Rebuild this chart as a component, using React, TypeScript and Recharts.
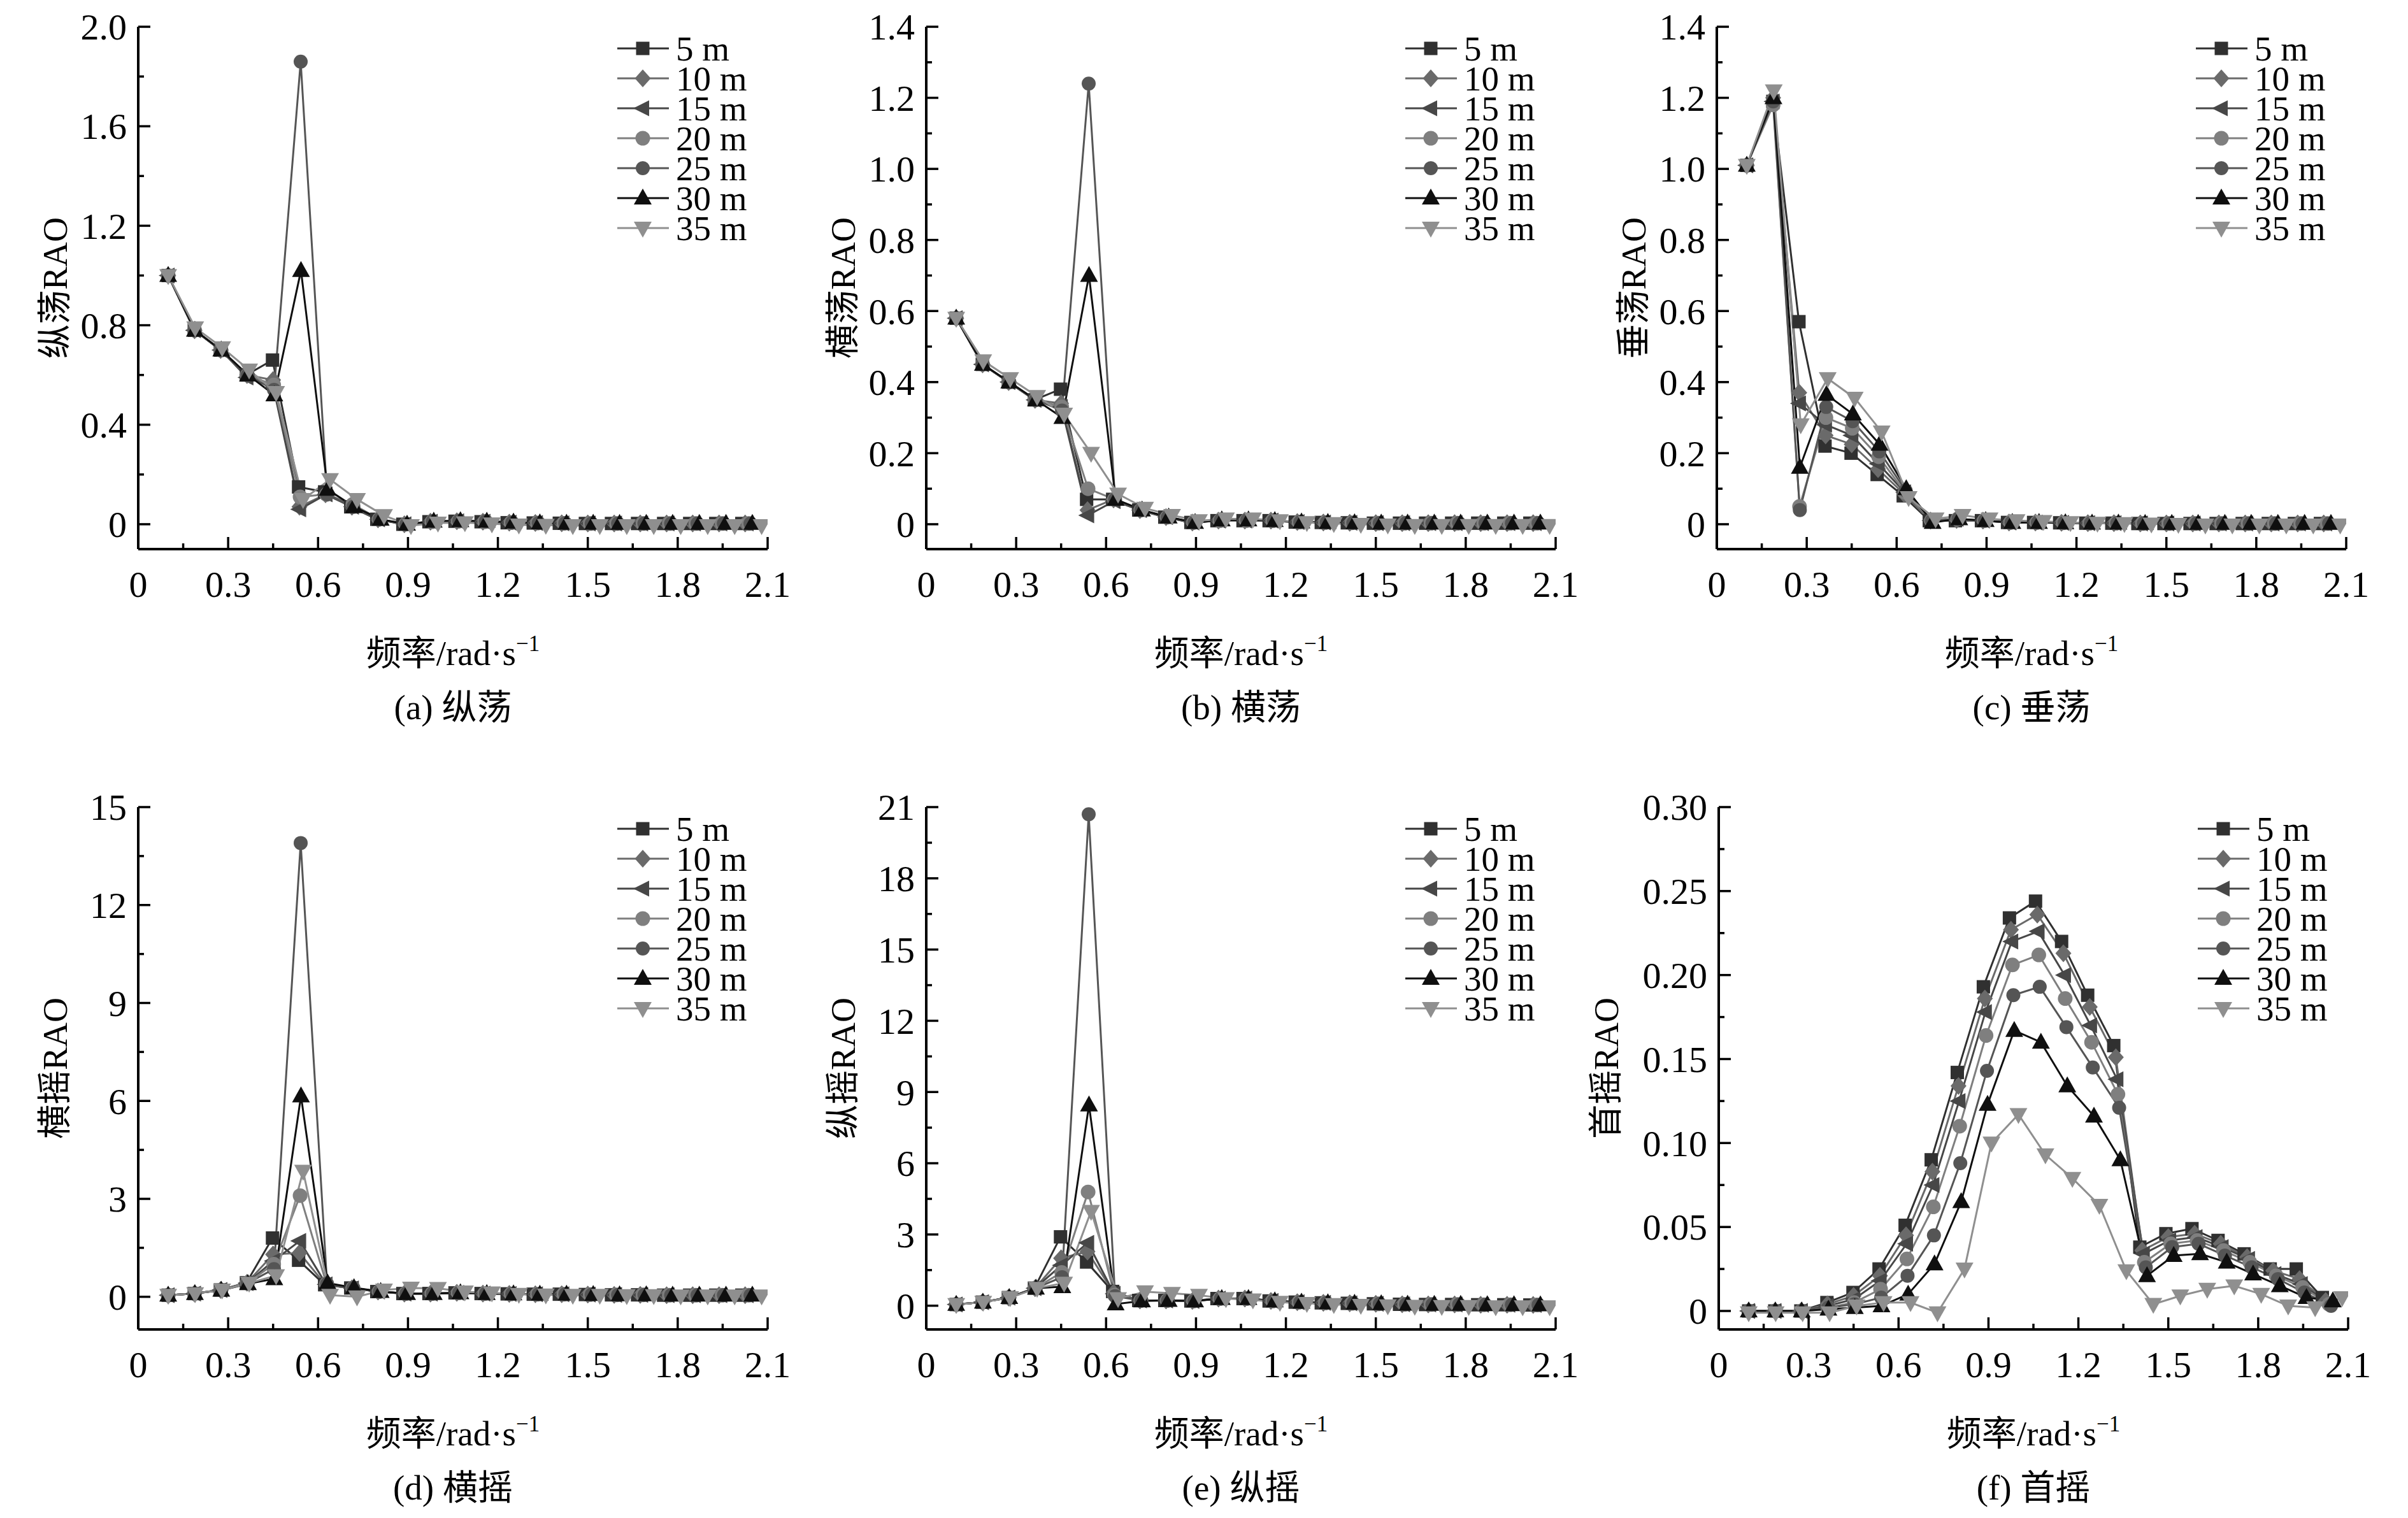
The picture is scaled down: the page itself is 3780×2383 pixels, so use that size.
import React from "react";
import { LineChart, Line, XAxis, YAxis } from "recharts";

// ---- data ----
const DEPTHS = ["5 m", "10 m", "15 m", "20 m", "25 m", "30 m", "35 m"];

// frequency points (rad/s) of each depth series
const FREQ_5M = [0.100, 0.187, 0.274, 0.361, 0.448, 0.535, 0.622, 0.709, 0.796, 0.883, 0.970, 1.057, 1.144, 1.231, 1.318, 1.405, 1.492, 1.579, 1.666, 1.753, 1.840, 1.927, 2.014];
const FREQ_10M = [0.100, 0.188, 0.275, 0.363, 0.450, 0.538, 0.625, 0.713, 0.800, 0.888, 0.975, 1.063, 1.150, 1.238, 1.325, 1.413, 1.500, 1.588, 1.675, 1.763, 1.850, 1.938, 2.025];
const FREQ_15M = [0.100, 0.188, 0.276, 0.363, 0.451, 0.539, 0.627, 0.715, 0.802, 0.890, 0.978, 1.066, 1.154, 1.241, 1.329, 1.417, 1.505, 1.593, 1.680, 1.768, 1.856, 1.944, 2.032];
const FREQ_20M = [0.100, 0.188, 0.276, 0.364, 0.452, 0.540, 0.628, 0.716, 0.804, 0.892, 0.980, 1.068, 1.156, 1.244, 1.332, 1.420, 1.508, 1.596, 1.684, 1.772, 1.860, 1.948, 2.036];
const FREQ_25M = [0.100, 0.188, 0.277, 0.365, 0.453, 0.542, 0.630, 0.718, 0.806, 0.895, 0.983, 1.071, 1.160, 1.248, 1.336, 1.425, 1.513, 1.601, 1.689, 1.778, 1.866, 1.954, 2.043];
const FREQ_30M = [0.100, 0.189, 0.277, 0.366, 0.454, 0.543, 0.632, 0.720, 0.809, 0.897, 0.986, 1.075, 1.163, 1.252, 1.340, 1.429, 1.518, 1.606, 1.695, 1.783, 1.872, 1.961, 2.049];
const FREQ_35M = [0.10, 0.19, 0.28, 0.37, 0.46, 0.55, 0.64, 0.73, 0.82, 0.91, 1.00, 1.09, 1.18, 1.27, 1.36, 1.45, 1.54, 1.63, 1.72, 1.81, 1.90, 1.99, 2.08];
const FREQS = [FREQ_5M, FREQ_10M, FREQ_15M, FREQ_20M, FREQ_25M, FREQ_30M, FREQ_35M];

// each panel: one row per depth, 5 m .. 35 m
const SURGE = [
  [1.00, 0.78, 0.70, 0.60, 0.66, 0.15, 0.13, 0.07, 0.02, 0.00, 0.010, 0.012, 0.010, 0.006, 0.005, 0.004, 0.003, 0.003, 0.003, 0.003, 0.003, 0.003, 0.003],
  [1.00, 0.78, 0.70, 0.60, 0.58, 0.07, 0.12, 0.07, 0.02, 0.00, 0.010, 0.012, 0.010, 0.006, 0.005, 0.004, 0.003, 0.003, 0.003, 0.003, 0.003, 0.003, 0.003],
  [1.00, 0.78, 0.70, 0.59, 0.55, 0.06, 0.12, 0.07, 0.02, 0.00, 0.010, 0.012, 0.010, 0.006, 0.005, 0.004, 0.003, 0.003, 0.003, 0.003, 0.003, 0.003, 0.003],
  [1.00, 0.78, 0.70, 0.60, 0.56, 0.11, 0.12, 0.08, 0.02, 0.00, 0.010, 0.012, 0.010, 0.006, 0.005, 0.004, 0.003, 0.003, 0.003, 0.003, 0.003, 0.003, 0.003],
  [1.00, 0.78, 0.70, 0.60, 0.54, 1.86, 0.12, 0.07, 0.02, 0.00, 0.012, 0.014, 0.012, 0.007, 0.005, 0.004, 0.003, 0.003, 0.003, 0.003, 0.003, 0.003, 0.003],
  [1.00, 0.78, 0.70, 0.60, 0.52, 1.02, 0.14, 0.07, 0.02, 0.00, 0.012, 0.014, 0.012, 0.008, 0.005, 0.004, 0.004, 0.003, 0.003, 0.003, 0.003, 0.003, 0.003],
  [1.00, 0.79, 0.71, 0.62, 0.53, 0.10, 0.18, 0.10, 0.035, -0.005, 0.005, 0.006, 0.002, -0.003, -0.004, -0.005, -0.005, -0.005, -0.005, -0.005, -0.005, -0.005, -0.005],
];

const SWAY = [
  [0.58, 0.45, 0.40, 0.35, 0.38, 0.07, 0.07, 0.04, 0.02, 0.005, 0.010, 0.010, 0.010, 0.006, 0.005, 0.004, 0.003, 0.003, 0.003, 0.003, 0.003, 0.003, 0.003],
  [0.58, 0.45, 0.40, 0.35, 0.34, 0.04, 0.07, 0.04, 0.02, 0.005, 0.010, 0.010, 0.010, 0.006, 0.005, 0.004, 0.003, 0.003, 0.003, 0.003, 0.003, 0.003, 0.003],
  [0.58, 0.45, 0.40, 0.35, 0.33, 0.025, 0.065, 0.04, 0.02, 0.005, 0.010, 0.010, 0.010, 0.006, 0.005, 0.004, 0.003, 0.003, 0.003, 0.003, 0.003, 0.003, 0.003],
  [0.58, 0.45, 0.40, 0.35, 0.33, 0.10, 0.07, 0.04, 0.02, 0.005, 0.010, 0.010, 0.010, 0.006, 0.005, 0.004, 0.003, 0.003, 0.003, 0.003, 0.003, 0.003, 0.003],
  [0.58, 0.45, 0.40, 0.35, 0.32, 1.24, 0.07, 0.04, 0.02, 0.005, 0.012, 0.012, 0.010, 0.006, 0.005, 0.004, 0.003, 0.003, 0.003, 0.003, 0.003, 0.003, 0.003],
  [0.58, 0.45, 0.40, 0.35, 0.30, 0.70, 0.07, 0.04, 0.02, 0.005, 0.012, 0.012, 0.010, 0.006, 0.005, 0.004, 0.003, 0.003, 0.003, 0.003, 0.003, 0.003, 0.003],
  [0.58, 0.46, 0.41, 0.36, 0.31, 0.20, 0.085, 0.045, 0.025, 0.010, 0.015, 0.015, 0.010, 0.005, 0.002, 0.000, -0.002, -0.003, -0.003, -0.003, -0.003, -0.003, -0.003],
];

const HEAVE = [
  [1.01, 1.19, 0.57, 0.22, 0.20, 0.14, 0.08, 0.010, 0.010, 0.010, 0.005, 0.005, 0.004, 0.003, 0.003, 0.002, 0.002, 0.002, 0.002, 0.002, 0.002, 0.002, 0.002],
  [1.01, 1.20, 0.37, 0.25, 0.225, 0.155, 0.085, 0.010, 0.012, 0.010, 0.005, 0.005, 0.004, 0.003, 0.003, 0.002, 0.002, 0.002, 0.002, 0.002, 0.002, 0.002, 0.002],
  [1.01, 1.19, 0.34, 0.28, 0.25, 0.17, 0.09, 0.010, 0.015, 0.010, 0.005, 0.005, 0.004, 0.003, 0.003, 0.002, 0.002, 0.002, 0.002, 0.002, 0.002, 0.002, 0.002],
  [1.01, 1.18, 0.05, 0.30, 0.27, 0.19, 0.09, 0.010, 0.015, 0.010, 0.005, 0.005, 0.004, 0.003, 0.003, 0.002, 0.002, 0.002, 0.002, 0.002, 0.002, 0.002, 0.002],
  [1.01, 1.19, 0.04, 0.33, 0.29, 0.205, 0.095, 0.010, 0.015, 0.010, 0.005, 0.005, 0.004, 0.003, 0.003, 0.002, 0.002, 0.002, 0.002, 0.002, 0.002, 0.002, 0.002],
  [1.01, 1.20, 0.16, 0.365, 0.31, 0.225, 0.10, 0.005, 0.015, 0.010, 0.005, 0.005, 0.004, 0.003, 0.003, 0.002, 0.002, 0.002, 0.002, 0.002, 0.002, 0.002, 0.002],
  [1.01, 1.22, 0.28, 0.41, 0.355, 0.26, 0.075, 0.015, 0.025, 0.015, 0.010, 0.008, 0.005, 0.003, 0.002, 0.001, 0.000, -0.002, -0.002, -0.002, -0.002, -0.002, -0.002],
];

const ROLL = [
  [0.05, 0.10, 0.21, 0.43, 1.80, 1.12, 0.37, 0.27, 0.16, 0.10, 0.10, 0.12, 0.10, 0.09, 0.08, 0.08, 0.07, 0.06, 0.06, 0.05, 0.05, 0.05, 0.05],
  [0.05, 0.10, 0.21, 0.43, 1.30, 1.34, 0.37, 0.26, 0.16, 0.10, 0.10, 0.12, 0.10, 0.09, 0.08, 0.08, 0.07, 0.06, 0.06, 0.05, 0.05, 0.05, 0.05],
  [0.05, 0.10, 0.21, 0.42, 1.10, 1.71, 0.38, 0.26, 0.16, 0.10, 0.10, 0.12, 0.10, 0.09, 0.08, 0.08, 0.07, 0.06, 0.06, 0.05, 0.05, 0.05, 0.05],
  [0.05, 0.10, 0.21, 0.42, 1.00, 3.10, 0.40, 0.27, 0.16, 0.10, 0.10, 0.12, 0.10, 0.09, 0.08, 0.08, 0.07, 0.06, 0.06, 0.05, 0.05, 0.05, 0.05],
  [0.05, 0.10, 0.21, 0.42, 0.85, 13.9, 0.40, 0.27, 0.16, 0.10, 0.10, 0.12, 0.10, 0.09, 0.08, 0.08, 0.07, 0.06, 0.06, 0.05, 0.05, 0.05, 0.05],
  [0.05, 0.10, 0.20, 0.40, 0.55, 6.15, 0.42, 0.28, 0.16, 0.10, 0.10, 0.12, 0.10, 0.09, 0.08, 0.08, 0.07, 0.06, 0.06, 0.05, 0.05, 0.05, 0.05],
  [0.05, 0.10, 0.21, 0.42, 0.65, 3.85, 0.05, 0.00, 0.21, 0.27, 0.26, 0.15, 0.12, 0.08, 0.06, 0.05, 0.05, 0.04, 0.04, 0.03, 0.03, 0.03, 0.03],
];

const PITCH = [
  [0.05, 0.15, 0.34, 0.74, 2.90, 1.84, 0.60, 0.22, 0.22, 0.20, 0.30, 0.30, 0.20, 0.15, 0.12, 0.10, 0.08, 0.06, 0.05, 0.05, 0.04, 0.04, 0.03],
  [0.05, 0.15, 0.34, 0.74, 2.00, 2.28, 0.55, 0.22, 0.22, 0.20, 0.30, 0.30, 0.20, 0.15, 0.12, 0.10, 0.08, 0.06, 0.05, 0.05, 0.04, 0.04, 0.03],
  [0.05, 0.15, 0.34, 0.74, 1.70, 2.65, 0.50, 0.22, 0.22, 0.20, 0.30, 0.30, 0.20, 0.15, 0.12, 0.10, 0.08, 0.06, 0.05, 0.05, 0.04, 0.04, 0.03],
  [0.05, 0.15, 0.34, 0.74, 1.40, 4.79, 0.45, 0.22, 0.22, 0.20, 0.30, 0.30, 0.20, 0.15, 0.12, 0.10, 0.08, 0.06, 0.05, 0.05, 0.04, 0.04, 0.03],
  [0.05, 0.15, 0.34, 0.74, 1.20, 20.7, 0.40, 0.22, 0.22, 0.20, 0.30, 0.30, 0.20, 0.15, 0.12, 0.10, 0.08, 0.06, 0.05, 0.05, 0.04, 0.04, 0.03],
  [0.05, 0.15, 0.34, 0.74, 0.80, 8.45, 0.07, 0.20, 0.22, 0.20, 0.30, 0.30, 0.20, 0.15, 0.12, 0.10, 0.08, 0.06, 0.05, 0.05, 0.04, 0.04, 0.03],
  [0.05, 0.15, 0.34, 0.74, 0.95, 3.98, 0.30, 0.59, 0.52, 0.44, 0.30, 0.25, 0.15, 0.10, 0.05, 0.02, 0.00, -0.02, -0.03, -0.03, -0.04, -0.04, -0.04],
];

const YAW = [
  [0, 0, 0, 0.005, 0.011, 0.025, 0.051, 0.090, 0.142, 0.193, 0.234, 0.244, 0.220, 0.188, 0.158, 0.038, 0.046, 0.049, 0.042, 0.034, 0.025, 0.025, 0.008],
  [0, 0, 0, 0.004, 0.009, 0.021, 0.045, 0.083, 0.134, 0.186, 0.227, 0.236, 0.213, 0.181, 0.151, 0.036, 0.044, 0.046, 0.040, 0.032, 0.024, 0.019, 0.006],
  [0, 0, 0, 0.003, 0.007, 0.018, 0.040, 0.075, 0.125, 0.178, 0.220, 0.226, 0.200, 0.170, 0.138, 0.034, 0.042, 0.044, 0.038, 0.031, 0.022, 0.016, 0.005],
  [0, 0, 0, 0.002, 0.005, 0.013, 0.031, 0.062, 0.110, 0.164, 0.206, 0.212, 0.186, 0.160, 0.129, 0.029, 0.040, 0.042, 0.036, 0.029, 0.021, 0.014, 0.004],
  [0, 0, 0, 0.002, 0.004, 0.008, 0.021, 0.045, 0.088, 0.143, 0.188, 0.193, 0.169, 0.145, 0.121, 0.026, 0.038, 0.040, 0.033, 0.026, 0.019, 0.011, 0.003],
  [0, 0, 0, 0.001, 0.002, 0.003, 0.010, 0.028, 0.065, 0.123, 0.167, 0.160, 0.134, 0.116, 0.090, 0.021, 0.033, 0.034, 0.029, 0.022, 0.015, 0.008, 0.006],
  [-0.001, -0.001, -0.001, -0.001, 0.003, 0.005, 0.005, -0.001, 0.025, 0.100, 0.117, 0.093, 0.079, 0.063, 0.024, 0.004, 0.009, 0.013, 0.015, 0.010, 0.003, 0.002, 0.008],
];

// ---- ticks ----
const X_MAJOR = [0, 0.3, 0.6, 0.9, 1.2, 1.5, 1.8, 2.1];
const X_MINOR = [0.15, 0.45, 0.75, 1.05, 1.35, 1.65, 1.95];
const Y_MAJOR_SURGE = [0, 0.4, 0.8, 1.2, 1.6, 2.0];
const Y_MINOR_SURGE = [0.2, 0.6, 1.0, 1.4, 1.8];
const Y_MAJOR_SWAY = [0, 0.2, 0.4, 0.6, 0.8, 1.0, 1.2, 1.4];
const Y_MINOR_SWAY = [0.1, 0.3, 0.5, 0.7, 0.9, 1.1, 1.3];
const Y_MAJOR_ROLL = [0, 3, 6, 9, 12, 15];
const Y_MINOR_ROLL = [1.5, 4.5, 7.5, 10.5, 13.5];
const Y_MAJOR_PITCH = [0, 3, 6, 9, 12, 15, 18, 21];
const Y_MINOR_PITCH = [1.5, 4.5, 7.5, 10.5, 13.5, 16.5, 19.5];
const Y_MAJOR_YAW = [0, 0.05, 0.1, 0.15, 0.2, 0.25, 0.3];
const Y_MINOR_YAW = [0.025, 0.075, 0.125, 0.175, 0.225, 0.275];

// ---- styling ----
const FONT = "'Liberation Serif', 'Times New Roman', 'Noto Sans CJK SC', serif";
const COLORS = ["#303030", "#6a6a6a", "#474747", "#7f7f7f", "#555555", "#0f0f0f", "#8f8f8f"];
const SHAPES = ["square", "diamond", "left", "circle", "hex", "up", "down"];
const CHART_W = 1260;
const PLOT_L = 217;
const PLOT_R = 55;
const PLOT_T = 42;
const PLOT_B = 862; // plot bottom, measured from panel top
const Y_AXIS_W = 60;
const X_AXIS_H = 60;
const TICK_FONT = 58;

const fmt = (d: number) => (v: number) => (v === 0 ? "0" : v.toFixed(d));

const PANELS = [
  { key: "a", left: 0, top: 0, h: 1190, rows: SURGE, yMajor: Y_MAJOR_SURGE, yMinor: Y_MINOR_SURGE, domain: [-0.1, 2.0], f: fmt(1), titleX: 112, title: "纵荡RAO", cap: "(a) 纵荡" },
  { key: "b", left: 1237, top: 0, h: 1190, rows: SWAY, yMajor: Y_MAJOR_SWAY, yMinor: Y_MINOR_SWAY, domain: [-0.07, 1.4], f: fmt(1), titleX: 112, title: "横荡RAO", cap: "(b) 横荡" },
  { key: "c", left: 2478, top: 0, h: 1190, rows: HEAVE, yMajor: Y_MAJOR_SWAY, yMinor: Y_MINOR_SWAY, domain: [-0.07, 1.4], f: fmt(1), titleX: 112, title: "垂荡RAO", cap: "(c) 垂荡" },
  { key: "d", left: 0, top: 1225, h: 1158, rows: ROLL, yMajor: Y_MAJOR_ROLL, yMinor: Y_MINOR_ROLL, domain: [-1, 15], f: fmt(0), titleX: 112, title: "横摇RAO", cap: "(d) 横摇" },
  { key: "e", left: 1237, top: 1225, h: 1158, rows: PITCH, yMajor: Y_MAJOR_PITCH, yMinor: Y_MINOR_PITCH, domain: [-1, 21], f: fmt(0), titleX: 112, title: "纵摇RAO", cap: "(e) 纵摇" },
  { key: "f", left: 2481, top: 1225, h: 1158, rows: YAW, yMajor: Y_MAJOR_YAW, yMinor: Y_MINOR_YAW, domain: [-0.011, 0.3], f: fmt(2), titleX: 158, title: "首摇RAO", cap: "(f) 首摇" },
];

const near = (list: number[], v: number) => list.some((m) => Math.abs(m - v) < 1e-9);

function Marker({ shape, cx, cy, color }: { shape: string; cx: number; cy: number; color: string }) {
  switch (shape) {
    case "square":
      return <rect x={cx - 10.5} y={cy - 10.5} width={21} height={21} fill={color} />;
    case "diamond":
      return <polygon points={`${cx},${cy - 14} ${cx + 12.5},${cy} ${cx},${cy + 14} ${cx - 12.5},${cy}`} fill={color} />;
    case "left":
      return <polygon points={`${cx - 15},${cy} ${cx + 10},${cy - 12.5} ${cx + 10},${cy + 12.5}`} fill={color} />;
    case "circle":
      return <circle cx={cx} cy={cy} r={11.5} fill={color} />;
    case "hex":
      return <circle cx={cx} cy={cy} r={11} fill={color} />;
    case "up":
      return <polygon points={`${cx},${cy - 15} ${cx + 14},${cy + 10} ${cx - 14},${cy + 10}`} fill={color} />;
    default:
      return <polygon points={`${cx},${cy + 15} ${cx + 14},${cy - 10} ${cx - 14},${cy - 10}`} fill={color} />;
  }
}

// tick props x/y sit on the axis line because tickSize and tickMargin are 0
const XTick = (props: any) => {
  const { x, y, payload } = props;
  const major = near(X_MAJOR, payload.value);
  return (
    <g>
      <line x1={x} y1={y} x2={x} y2={y - (major ? 19 : 9)} stroke="#000" strokeWidth={3.5} />
      {major && (
        <text x={x} y={y + 75} textAnchor="middle" fontSize={TICK_FONT} fontFamily={FONT} fill="#000">
          {fmt(1)(payload.value)}
        </text>
      )}
    </g>
  );
};

const makeYTick = (majors: number[], f: (v: number) => string) => (props: any) => {
  const { x, y, payload } = props;
  const major = near(majors, payload.value);
  return (
    <g>
      <line x1={x} y1={y} x2={x + (major ? 19 : 9)} y2={y} stroke="#000" strokeWidth={3.5} />
      {major && (
        <text x={x - 18} y={y} dy="0.35em" textAnchor="end" fontSize={TICK_FONT} fontFamily={FONT} fill="#000">
          {f(payload.value)}
        </text>
      )}
    </g>
  );
};

function Panel({ p }: { p: (typeof PANELS)[number] }) {
  const YTick = makeYTick(p.yMajor, p.f);
  return (
    <div style={{ position: "absolute", left: p.left, top: p.top }}>
      <LineChart
        width={CHART_W}
        height={p.h}
        margin={{ top: PLOT_T, right: PLOT_R, bottom: p.h - PLOT_B - X_AXIS_H, left: PLOT_L - Y_AXIS_W }}
      >
        <XAxis
          type="number"
          dataKey="x"
          domain={[0, 2.1]}
          ticks={[...X_MAJOR, ...X_MINOR]}
          interval={0}
          allowDataOverflow
          height={X_AXIS_H}
          tickSize={0}
          tickMargin={0}
          tickLine={false}
          tick={XTick}
          axisLine={{ stroke: "#000", strokeWidth: 4 }}
        />
        <YAxis
          type="number"
          domain={p.domain}
          ticks={[...p.yMajor, ...p.yMinor]}
          interval={0}
          allowDataOverflow
          width={Y_AXIS_W}
          tickSize={0}
          tickMargin={0}
          tickLine={false}
          tick={YTick}
          axisLine={{ stroke: "#000", strokeWidth: 4 }}
        />
        {p.rows.map((vals, s) => (
          <Line
            key={DEPTHS[s]}
            name={DEPTHS[s]}
            data={FREQS[s].map((x, i) => ({ x, y: vals[i] }))}
            dataKey="y"
            type="linear"
            stroke={COLORS[s]}
            strokeWidth={3}
            isAnimationActive={false}
            activeDot={false}
            dot={(d: any) =>
              d.cx == null ? <g key={d.index} /> : (
                <Marker key={d.index} shape={SHAPES[s]} cx={d.cx} cy={d.cy} color={COLORS[s]} />
              )
            }
          />
        ))}
      </LineChart>
    </div>
  );
}

function Labels() {
  return (
    <svg
      width={3780}
      height={2383}
      style={{ position: "absolute", left: 0, top: 0, pointerEvents: "none" }}
      fontFamily={FONT}
    >
      {PANELS.map((p) => {
        const ax = p.left + PLOT_L;
        const cx = ax + (CHART_W - PLOT_L - PLOT_R) / 2;
        const midY = p.top + (PLOT_T + PLOT_B) / 2;
        const bottom = p.top + PLOT_B;
        const lx = ax + 752;
        const tx = ax - p.titleX;
        return (
          <g key={p.key}>
            <text x={tx} y={midY} textAnchor="middle" fontSize={54} transform={`rotate(-90 ${tx} ${midY})`}>
              {p.title}
            </text>
            <text x={cx} y={bottom + 182} textAnchor="middle" fontSize={55}>
              频率/rad·s
              <tspan dy={-22} fontSize={35}>
                −1
              </tspan>
            </text>
            <text x={cx} y={bottom + 267} textAnchor="middle" fontSize={55}>
              {p.cap}
            </text>
            {DEPTHS.map((d, k) => {
              const y = p.top + 76 + k * 47;
              return (
                <g key={d}>
                  <line x1={lx} y1={y} x2={lx + 81} y2={y} stroke={COLORS[k]} strokeWidth={3} />
                  <Marker shape={SHAPES[k]} cx={lx + 40} cy={y} color={COLORS[k]} />
                  <text x={lx + 92} y={y} dy="0.35em" fontSize={55}>
                    {d}
                  </text>
                </g>
              );
            })}
          </g>
        );
      })}
    </svg>
  );
}

export default function App() {
  return (
    <div style={{ position: "absolute", left: 0, top: 0, width: 3780, height: 2383, background: "#fff" }}>
      {PANELS.map((p) => (
        <Panel key={p.key} p={p} />
      ))}
      <Labels />
    </div>
  );
}
